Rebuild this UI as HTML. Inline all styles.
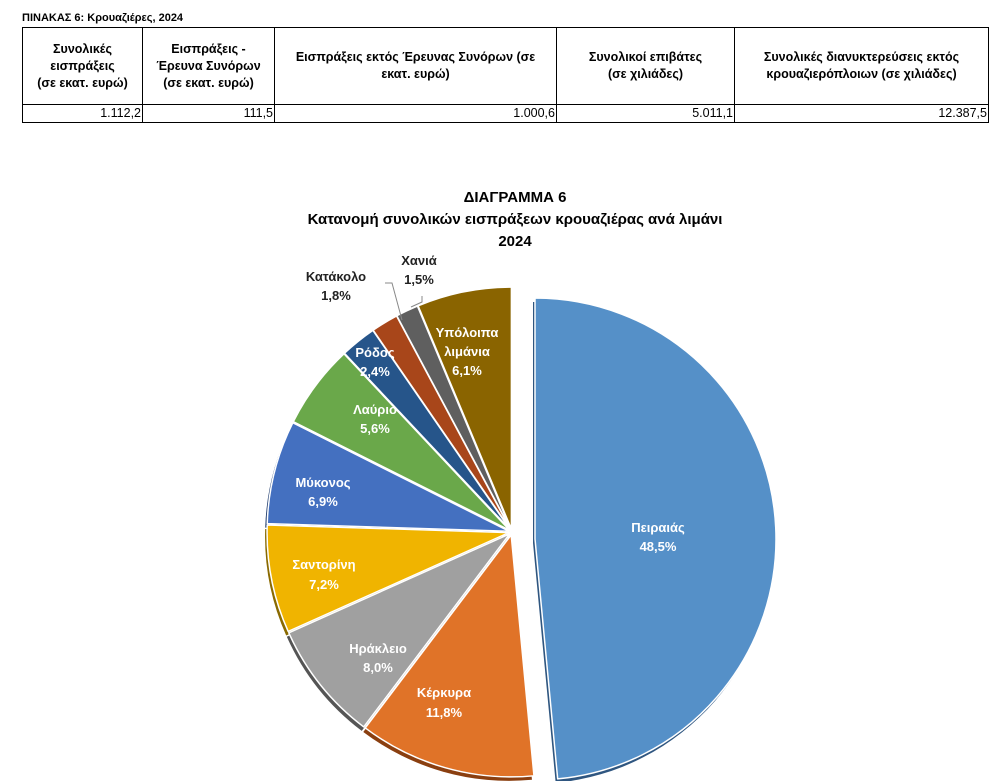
<!DOCTYPE html>
<html><head><meta charset="utf-8">
<style>
body{margin:0;background:#fff;width:993px;height:781px;overflow:hidden;font-family:"Liberation Sans",Arial,sans-serif}
.t{position:absolute;left:22px;top:12px;font-size:11px;font-weight:bold;color:#000}
table{position:absolute;left:22px;top:27px;border-collapse:collapse;font-size:12.5px;font-weight:bold}
td{border:1px solid #000;text-align:center;padding:0 3px;line-height:17px}
tr.h td{height:76px}
tr.v td{height:16px;text-align:right;font-weight:normal;font-size:12.5px;padding:0 1px}
svg{position:absolute;left:0;top:0}
</style></head><body>
<div class="t">ΠΙΝΑΚΑΣ 6: Κρουαζιέρες, 2024</div>
<table>
<tr class="h"><td style="width:113px">Συνολικές<br>εισπράξεις<br>(σε εκατ. ευρώ)</td><td style="width:125px">Εισπράξεις -<br>Έρευνα Συνόρων<br>(σε εκατ. ευρώ)</td><td style="width:275px">Εισπράξεις εκτός Έρευνας Συνόρων (σε<br>εκατ. ευρώ)</td><td style="width:171px">Συνολικοί επιβάτες<br>(σε χιλιάδες)</td><td style="width:247px">Συνολικές διανυκτερεύσεις εκτός<br>κρουαζιερόπλοιων (σε χιλιάδες)</td></tr>
<tr class="v"><td>1.112,2</td><td>111,5</td><td>1.000,6</td><td>5.011,1</td><td>12.387,5</td></tr>
</table>
<svg id="s" width="993" height="781" font-family="Liberation Sans, DejaVu Sans, sans-serif" font-weight="bold">
<text x="515" y="202" text-anchor="middle" font-size="15">ΔΙΑΓΡΑΜΜΑ 6</text>
<text x="515" y="224" text-anchor="middle" font-size="15">Κατανομή συνολικών εισπράξεων κρουαζιέρας ανά λιμάνι</text>
<text x="515" y="246" text-anchor="middle" font-size="15">2024</text>
<g id="sh"></g><g id="pl"></g>
<polyline points="385,283 392,283 402,320" fill="none" stroke="#888" stroke-width="1"/>
<polyline points="422,296 422,302 411,307" fill="none" stroke="#888" stroke-width="1"/>
<g font-size="13" text-anchor="middle" fill="#fff">
<text x="658" y="532">Πειραιάς</text><text x="658" y="551">48,5%</text>
<text x="444" y="697">Κέρκυρα</text><text x="444" y="717">11,8%</text>
<text x="378" y="653">Ηράκλειο</text><text x="378" y="672">8,0%</text>
<text x="324" y="569" fill="#fff">Σαντορίνη</text><text x="324" y="589">7,2%</text>
<text x="323" y="487">Μύκονος</text><text x="323" y="506">6,9%</text>
<text x="375" y="414">Λαύριο</text><text x="375" y="433">5,6%</text>
<text x="375" y="357">Ρόδος</text><text x="375" y="376">2,4%</text>
<text x="467" y="337">Υπόλοιπα</text><text x="467" y="356">λιμάνια</text><text x="467" y="375">6,1%</text>
</g>
<g font-size="13" text-anchor="middle" fill="#222">
<text x="336" y="281">Κατάκολο</text><text x="336" y="300">1,8%</text>
<text x="419" y="265">Χανιά</text><text x="419" y="284">1,5%</text>
</g>
</svg>
<script>
var d=[[48.5,'#5590c8','#2f5680',22],[11.8,'#e07328','#8a3f10',3],[8.0,'#a0a0a0','#555',3],[7.2,'#f0b400','#8a6a00',3],[6.9,'#4470c0','#223f70',3],[5.6,'#6aa84a','#30582a',3],[2.4,'#26558a','#10284a',3],[1.8,'#a8461a','#5a200a',3],[1.5,'#5f5f5f','#333',3],[6.3,'#8a6400','#4a3500',3]];
var cx=512,cy=532,r=242,a=0,sh='',pl='';
function P(x,y,a,r){return [x+r*Math.sin(a),y-r*Math.cos(a)];}
d.forEach(function(s,i){var a0=a*Math.PI/50,a1=(a+s[0])*Math.PI/50,m=(a0+a1)/2;
var rr=i==0?241:r;var x=cx+s[3]*Math.sin(m),y=cy-s[3]*Math.cos(m);
if(i==0){x=cx+23;y=cy+7;}
var p0=P(x,y,a0,rr),p1=P(x,y,a1,rr),lg=(a1-a0)>Math.PI?1:0;
var path=function(dx,dy){return 'M'+(x+dx)+','+(y+dy)+'L'+(p0[0]+dx)+','+(p0[1]+dy)+'A'+rr+','+rr+' 0 '+lg+' 1 '+(p1[0]+dx)+','+(p1[1]+dy)+'Z';};
sh+='<path d="'+path(-2,4)+'" fill="'+s[2]+'"/>';
pl+='<path d="'+path(0,0)+'" fill="'+s[1]+'" stroke="#fff" stroke-width="1.5" stroke-linejoin="round"/>';a+=s[0];});
document.getElementById('sh').innerHTML=sh;document.getElementById('pl').innerHTML=pl;
</script>
</body></html>
